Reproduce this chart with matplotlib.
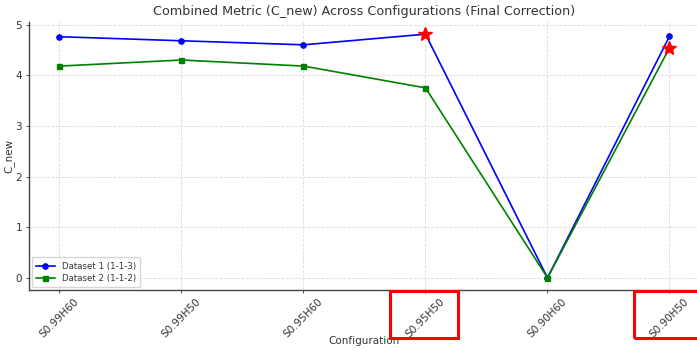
import matplotlib.pyplot as plt
from matplotlib.patches import Rectangle

configs = ['S0.99H60', 'S0.99H50', 'S0.95H60', 'S0.95H50', 'S0.90H60', 'S0.90H50']
dataset1 = [4.76, 4.68, 4.60, 4.81, 0.0, 4.77]
dataset2 = [4.18, 4.30, 4.18, 3.75, 0.0, 4.54]
boxed = ['S0.95H50', 'S0.90H50']

text_c = '#333333'
plt.rcParams['font.family'] = 'DejaVu Sans'

fig = plt.figure(figsize=(6.97, 3.52), dpi=100)
ax = fig.add_axes([29 / 697, 1 - 290 / 352, 671 / 697, (290 - 22) / 352])

x = list(range(len(configs)))
ax.plot(x, dataset1, color='blue', marker='o', markersize=3.8, linewidth=1.2, label='Dataset 1 (1-1-3)')
ax.plot(x, dataset2, color='green', marker='s', markersize=3.6, linewidth=1.2, label='Dataset 2 (1-1-2)')

# highlight the maximum of each series
for ys in (dataset1, dataset2):
    i = max(range(len(ys)), key=lambda k: ys[k])
    ax.plot(x[i], ys[i], marker='*', color='red', markersize=10, linestyle='none')

ax.set_xticks(x)
ax.set_xticklabels(configs, rotation=45, ha='center')
ax.set_title('Combined Metric (C_new) Across Configurations (Final Correction)', fontsize=9.2, color=text_c, pad=5)
ax.set_xlabel('Configuration', fontsize=7.5, color=text_c, labelpad=-3)
ax.set_ylabel('C_new', fontsize=7.5, color=text_c, labelpad=1)
ax.tick_params(axis='both', labelsize=7.5, colors=text_c, length=2.5, width=0.6, pad=2.5)
ax.grid(True, linestyle='--', linewidth=0.6, color='#dcdcdc')
for s in ('top', 'right'):
    ax.spines[s].set_visible(False)
for s in ('left', 'bottom'):
    ax.spines[s].set_color('#444444')
    ax.spines[s].set_linewidth(1.0)

leg = ax.legend(loc='lower left', fontsize=6.2, frameon=True, borderpad=0.5, handlelength=2.2,
                labelspacing=0.4, borderaxespad=0.3)
for t in leg.get_texts():
    t.set_color(text_c)

# red boxes around selected tick labels
fig.canvas.draw()
renderer = fig.canvas.get_renderer()
ax_bottom = ax.get_window_extent(renderer).y0
for lab in ax.get_xticklabels():
    if lab.get_text() in boxed:
        bb = lab.get_window_extent(renderer)
        x0 = bb.x0 - 14
        w = bb.width + 25
        h = 47
        fig.patches.append(Rectangle((x0, ax_bottom - h - 1), w, h, transform=None, fill=False,
                                     edgecolor='red', linewidth=2.2))

fig.savefig('out.png', dpi=100)
